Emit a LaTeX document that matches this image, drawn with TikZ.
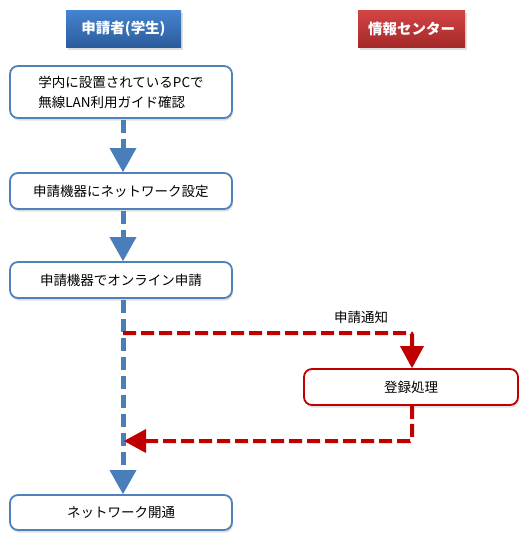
\documentclass[tikz,border=0pt]{standalone}
\usepackage{fontspec}
\setmainfont{Noto Sans CJK JP}
\usetikzlibrary{arrows.meta,shadows,calc}
\definecolor{bborder}{HTML}{4F81BD}
\definecolor{bline}{HTML}{4A7EBB}
\definecolor{rborder}{HTML}{C00000}
\definecolor{bhtop}{HTML}{4484D0}
\definecolor{bhbot}{HTML}{2C5C9C}
\definecolor{rhtop}{HTML}{D44545}
\definecolor{rhbot}{HTML}{A42828}
\tikzset{
  hdr/.style={minimum height=37pt, text=white, font=\fontsize{14.5}{16}\selectfont\bfseries,
    drop shadow={shadow xshift=2pt, shadow yshift=-3pt, opacity=0.25}},
  stepbox/.style={draw=bborder, line width=1.8pt, rounded corners=8pt, fill=white,
    minimum width=222pt, font=\fontsize{13.5}{20}\selectfont,
    drop shadow={shadow xshift=1pt, shadow yshift=-2.5pt, opacity=0.25}},
  redbox/.style={stepbox, draw=rborder, minimum width=214pt},
  bflow/.style={draw=bline, line width=5pt, dash pattern=on 13pt off 6pt,
    -{Triangle[width=27pt,length=24pt,line width=0pt]}},
  rflow/.style={draw=rborder, line width=4pt, dash pattern=on 13pt off 5pt, rounded corners=2pt,
    -{Triangle[width=24pt,length=22pt,line width=0pt]}},
}
\begin{document}
\begin{tikzpicture}[x=1pt,y=-1pt]
\useasboundingbox (0,0) rectangle (530,550);
\node[hdr, minimum width=115pt, top color=bhtop, bottom color=bhbot] (h1) at (123.5,28.5) {申請者(学生)};
\node[hdr, minimum width=107pt, top color=rhtop, bottom color=rhbot] (h2) at (411.5,28.5) {情報センター};

\node[stepbox, minimum height=52pt, align=left] (b1) at (121,92) {学内に設置されているPCで\\無線LAN利用ガイド確認};
\node[stepbox, minimum height=36pt] (b2) at (121,191) {申請機器にネットワーク設定};
\node[stepbox, minimum height=36pt] (b3) at (121,280) {申請機器でオンライン申請};
\node[redbox, minimum height=36pt] (b4) at (411,387) {登録処理};
\node[stepbox, minimum height=35pt] (b5) at (121,512.5) {ネットワーク開通};

\coordinate (t1) at (123,0);
\coordinate (r1) at (123,333);
\coordinate (r2) at (412,333);
\coordinate (r3) at (412,441);
\coordinate (r4) at (124,441);

\draw[bflow] (b1.south -| t1) ++(0,1) -- (b2.north -| t1);
\draw[bflow] (b2.south -| t1) ++(0,1) -- (b3.north -| t1);
\draw[bflow] (b3.south -| t1) ++(0,1) -- (b5.north -| t1);

\draw[rflow] (r1) -- (r2) -- (b4.north -| r2);
\draw[rflow] (b4.south -| r3) -- (r3) -- (r4);

\node[font=\fontsize{13.5}{16}\selectfont] (lbl) at (361,317) {申請通知};
\end{tikzpicture}
\end{document}
